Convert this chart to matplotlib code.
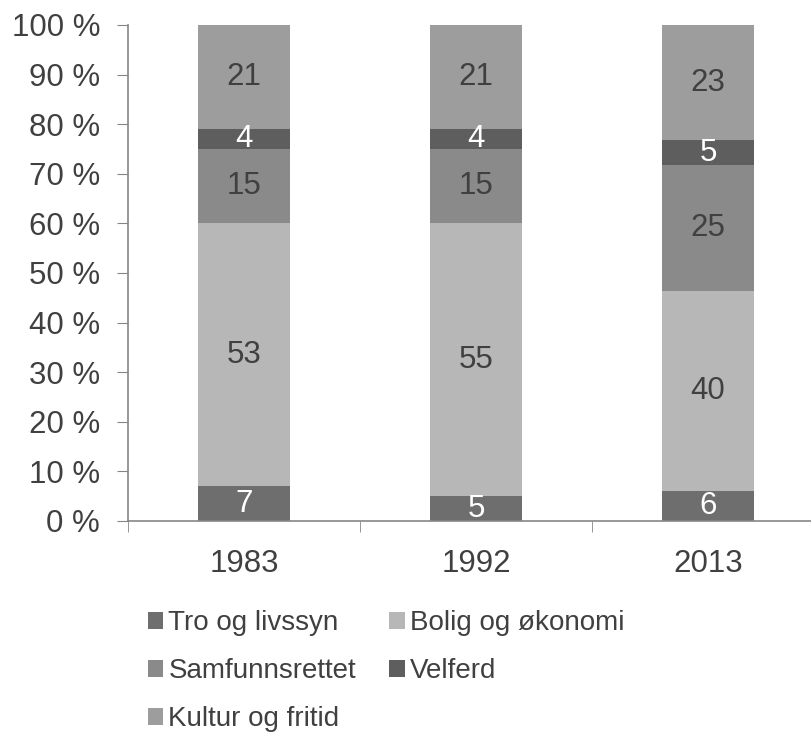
import numpy as np
import matplotlib.pyplot as plt

plt.rcParams['font.family'] = ['Liberation Sans', 'DejaVu Sans']

years = ['1983', '1992', '2013']
series = ['Tro og livssyn', 'Bolig og økonomi', 'Samfunnsrettet', 'Velferd', 'Kultur og fritid']
tro = [7, 5, 6]
bolig = [53, 55, 40]
samfunn = [15, 15, 25]
velferd = [4, 4, 5]
kultur = [21, 21, 23]
values = [tro, bolig, samfunn, velferd, kultur]

colors = ['#6e6e6e', '#b7b7b7', '#8a8a8a', '#5e5e5e', '#9d9d9d']
label_colors = ['white', '#404040', '#404040', 'white', '#404040']

data = np.array(values, dtype=float)
pct = data / data.sum(axis=0) * 100

fig = plt.figure(figsize=(8.11, 7.39), dpi=100)
ax = fig.add_axes([128 / 811, 1 - 521 / 739, 696 / 811, 496 / 739])

x = np.arange(len(years))
bottom = np.zeros(len(years))
bars = []
for i, name in enumerate(series):
    b = ax.bar(x, pct[i], 0.4, bottom=bottom, color=colors[i], label=name)
    bars.append(b)
    for j in range(len(years)):
        ax.text(x[j], bottom[j] + pct[i][j] / 2, str(values[i][j]),
                ha='center', va='center', fontsize=22.5, color=label_colors[i])
    bottom += pct[i]

ax.set_xlim(-0.5, 2.5)
ax.set_ylim(0, 100)
ax.set_yticks(np.arange(0, 101, 10))
ax.set_yticklabels([f'{v} %' for v in range(0, 101, 10)])
ax.set_xticks(x)
ax.set_xticklabels(years)
ax.set_xticks([-0.5, 0.5, 1.5, 2.5], minor=True)

for s in ['top', 'right']:
    ax.spines[s].set_visible(False)
for s in ['left', 'bottom']:
    ax.spines[s].set_color('#868686')
    ax.spines[s].set_linewidth(1.2)

ax.tick_params(axis='y', length=8, color='#868686', labelsize=22.5, labelcolor='#404040', pad=12)
ax.tick_params(axis='x', which='major', length=0, labelsize=22.5, labelcolor='#404040', pad=20)
ax.tick_params(axis='x', which='minor', length=8, color='#868686')

order = [0, 2, 4, 1, 3]
handles = [bars[k] for k in order]
labels = [series[k] for k in order]
leg = fig.legend(handles, labels, ncol=2, loc='upper left',
                 bbox_to_anchor=(148 / 811, 1 - 610 / 739), frameon=False,
                 borderpad=0, borderaxespad=0,
                 fontsize=20, handlelength=0.55, handleheight=0.55,
                 handletextpad=0.18, columnspacing=1.2, labelspacing=0.8,
                 labelcolor='#404040')

fig.savefig('out.png', dpi=100)
